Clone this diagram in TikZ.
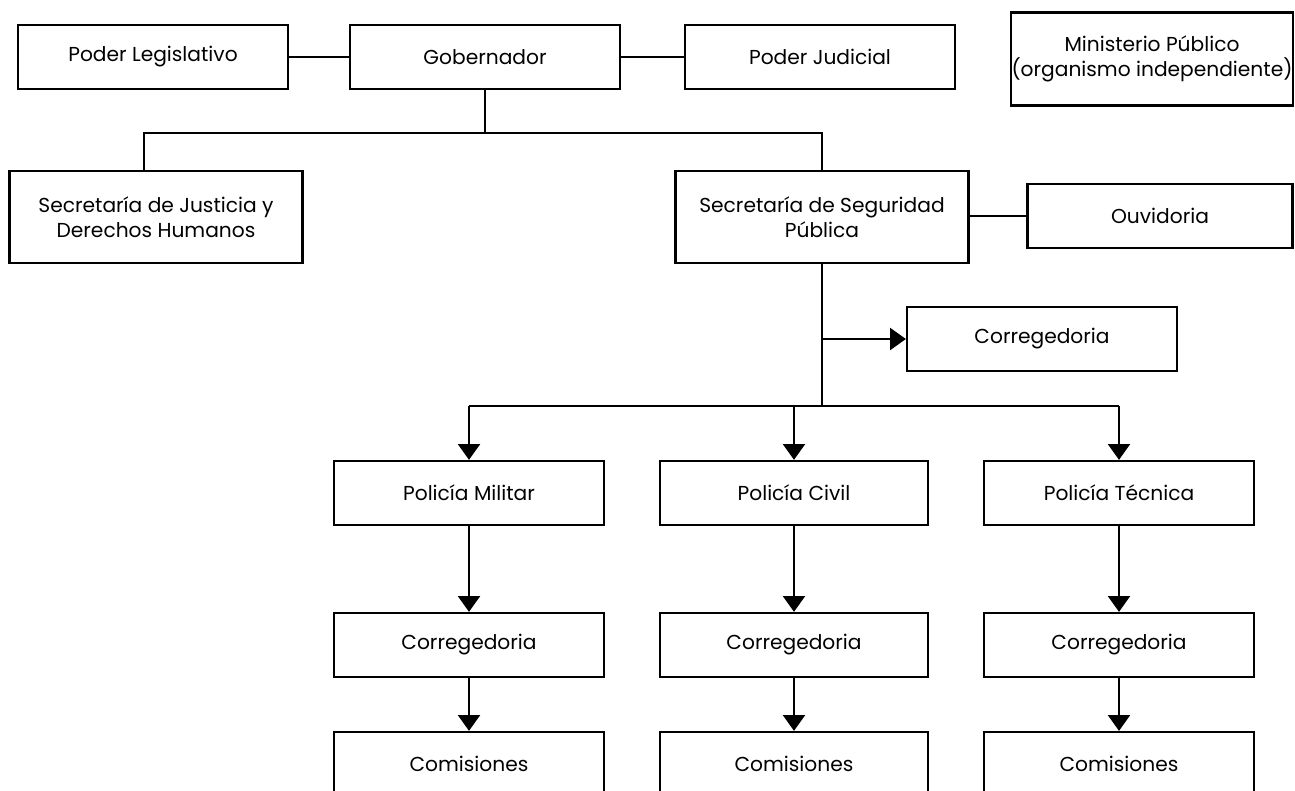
\documentclass[tikz,border=0pt]{standalone}
\usepackage{fontspec}
\setmainfont{Poppins}
\usetikzlibrary{arrows.meta}
\tikzset{
  box/.style={draw=black, line width=1.3pt, fill=white, align=center, inner sep=0pt,
    minimum width=5.4cm, minimum height=1.28cm, font=\fontsize{11.5}{14.5}\selectfont},
  link/.style={line width=1.3pt},
  arr/.style={line width=1.3pt, -{Triangle[width=12.5pt, length=9pt]}}
}

\begin{document}
\begin{tikzpicture}[x=0.02cm, y=-0.02cm]
	%%%%% START %%%%%
	\useasboundingbox (0, 0) rectangle (1295, 791);
	
	% top row
	\node[box] (leg) at (153, 57) {Poder Legislativo};
	\node[box] (gob) at (485, 57) {Gobernador};
	\node[box] (jud) at (820, 57) {Poder Judicial};
	\node[box, minimum width=5.64cm, minimum height=1.86cm] (mp) at (1152, 59) {Ministerio Público\\(organismo independiente)};
	
	\draw[link] (leg) -- (gob);
	\draw[link] (gob) -- (jud);
	
	% secretarias
	\node[box, minimum width=5.86cm, minimum height=1.84cm] (sjdh) at (156, 217) {Secretaría de Justicia y\\Derechos Humanos};
	\node[box, minimum width=5.86cm, minimum height=1.84cm] (ssp) at (822, 217) {Secretaría de Seguridad\\Pública};
	\node[box, minimum width=5.3cm] (ouv) at (1160, 216) {Ouvidoria};
	
	\coordinate (b1) at (485, 133);
	\coordinate (b1l) at (144, 133);
	\draw[link] (gob.south) -- (b1);
	\draw[link] (b1) -- (b1l) -- (b1l |- sjdh.north);
	\draw[link] (b1) -| (ssp.north);
	\draw[link] (ssp.east |- ouv) -- (ouv.west);
	
	% corregedoria general
	\node[box] (cor) at (1042, 339) {Corregedoria};
	\coordinate (b2) at (822, 406);
	\draw[link] (ssp.south) -- (b2);
	\draw[arr] (ssp.south |- cor) -- (cor.west);
	
	% policias
	\node[box] (pm) at (469, 493) {Policía Militar};
	\node[box, minimum width=5.36cm] (pc) at (794, 493) {Policía Civil};
	\node[box] (pt) at (1119, 493) {Policía Técnica};
	
	\draw[link] (pm.north |- b2) -- (pt.north |- b2);
	\draw[arr] (pm.north |- b2) -- (pm.north);
	\draw[arr] (pc.north |- b2) -- (pc.north);
	\draw[arr] (pt.north |- b2) -- (pt.north);
	
	% corregedorias y comisiones
	\node[box] (cpm) at (469, 645) {Corregedoria};
	\node[box, minimum width=5.36cm] (cpc) at (794, 645) {Corregedoria};
	\node[box] (cpt) at (1119, 645) {Corregedoria};
	
	\node[box] (kpm) at (469, 764) {Comisiones};
	\node[box, minimum width=5.36cm] (kpc) at (794, 764) {Comisiones};
	\node[box] (kpt) at (1119, 764) {Comisiones};
	
	\draw[arr] (pm) -- (cpm);
	\draw[arr] (pc) -- (cpc);
	\draw[arr] (pt) -- (cpt);
	\draw[arr] (cpm) -- (kpm);
	\draw[arr] (cpc) -- (kpc);
	\draw[arr] (cpt) -- (kpt);
	%%%%% END %%%%%
\end{tikzpicture}
\end{document}
